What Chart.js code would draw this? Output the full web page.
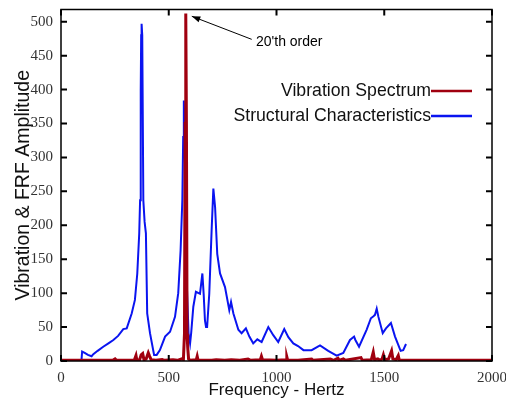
<!DOCTYPE html>
<html>
<head>
<meta charset="utf-8">
<script src="https://cdn.jsdelivr.net/npm/chart.js@4.4.1/dist/chart.umd.min.js"></script>
<style>
  html, body { margin:0; padding:0; background:#fff; }
  canvas { display:block; }
</style>
</head>
<body>
<canvas id="chart" width="506" height="402"></canvas>
<script>
// Structural Characteristics (FRF)
const frfHz  = [95,98,110,125,142,150,170,196,220,243,265,289,305,328,343,354,363,367,370,372,374,377,382,388,394,400,413,432,444,459,483,506,529,544,555,563,567,570,575,583,592,599,604,614,626,645,656,662,668,673,678,688,699,707,715,725,738,761,781,789,800,823,838,858,874,892,911,931,962,985,1008,1036,1055,1078,1100,1125,1163,1202,1240,1279,1310,1341,1360,1366,1383,1418,1438,1450,1457,1465,1473,1493,1508,1531,1550,1576,1588,1601];
const frfAmp = [1,14,12,9,7,10,15,21,26,31,37,47,48,70,90,129,188,237,400,480,497,480,237,205,188,70,41,9,9,16,36,43,65,100,163,237,330,384,300,120,40,26,41,80,102,99,129,99,60,50,50,99,193,254,227,158,129,109,75,87,70,46,41,48,36,26,32,28,50,38,28,47,35,26,22,16,16,23,15,8,12,31,36,31,21,46,63,66,68,77,65,41,48,56,36,15,16,25];

// Vibration Spectrum
const vibHz  = [0,240,251,258,300,340,348,352,365,372,379,385,395,405,410,418,440,470,480,520,540,560,568,573,576,579,582,585,588,592,600,628,632,636,700,720,760,790,830,868,880,925,930,935,1000,1045,1048,1052,1100,1163,1170,1250,1265,1285,1290,1310,1320,1392,1398,1440,1449,1455,1470,1480,1490,1496,1502,1520,1534,1540,1555,1565,1570,1600,2000];
const vibAmp = [1,1,3,1,1,1,8,1,2,9,11,2,3,12,8,2,1,2,1,2,1,3,2,40,350,512,350,40,20,3,1,2,7,1,1,2,1,2,1,3,1,2,7,2,1,2,6,1,1,3,1,3,1,4,1,3,1,5,1,2,13,2,3,1,3,9,2,3,15,3,2,8,1,1,1];

const xTicks = [0,500,1000,1500,2000];
const yTicks = [0,50,100,150,200,250,300,350,400,450,500];

const toXY = (xs, ys) => xs.map((x,i)=>({x:x, y:ys[i]}));

// frame with inward ticks on all four sides
const framePlugin = {
  id:"frame",
  afterDatasetsDraw(chart){
    const {ctx, chartArea:a, scales:{x, y}} = chart;
    ctx.save();
    ctx.strokeStyle = "#000";
    ctx.lineWidth = 1.5;
    ctx.strokeRect(a.left, a.top, a.right-a.left, a.bottom-a.top);
    ctx.lineWidth = 2;
    ctx.beginPath();
    xTicks.forEach(v=>{
      const px = x.getPixelForValue(v);
      ctx.moveTo(px, a.bottom); ctx.lineTo(px, a.bottom-6);
      ctx.moveTo(px, a.top); ctx.lineTo(px, a.top+6);
    });
    yTicks.forEach(v=>{
      const py = y.getPixelForValue(v);
      ctx.moveTo(a.left, py); ctx.lineTo(a.left+6, py);
      ctx.moveTo(a.right, py); ctx.lineTo(a.right-6, py);
    });
    ctx.stroke();
    ctx.restore();
  }
};

// legend: right-aligned text followed by a line sample
const legendPlugin = {
  id:"legendRight",
  afterDraw(chart){
    const ctx = chart.ctx;
    const rows = [
      {ds:chart.data.datasets[1], y:91},
      {ds:chart.data.datasets[0], y:116}
    ];
    ctx.save();
    ctx.font = "17.7px 'Liberation Sans', Arial, sans-serif";
    ctx.textAlign = "right";
    ctx.textBaseline = "middle";
    rows.forEach(r=>{
      ctx.fillStyle = "#111";
      ctx.fillText(r.ds.label, 431, r.y);
      ctx.strokeStyle = r.ds.borderColor;
      ctx.lineWidth = 2.5;
      ctx.beginPath();
      ctx.moveTo(431, r.y); ctx.lineTo(472, r.y);
      ctx.stroke();
    });
    ctx.restore();
  }
};

// "20'th order" note with arrow
const notePlugin = {
  id:"note",
  afterDraw(chart){
    const {ctx, scales:{x, y}} = chart;
    const tx = x.getPixelForValue(607), ty = y.getPixelForValue(508);
    const fx = x.getPixelForValue(885), fy = y.getPixelForValue(474);
    ctx.save();
    ctx.strokeStyle = "#000";
    ctx.fillStyle = "#000";
    ctx.lineWidth = 1;
    ctx.beginPath();
    ctx.moveTo(fx, fy); ctx.lineTo(tx, ty);
    ctx.stroke();
    const ang = Math.atan2(ty-fy, tx-fx);
    ctx.beginPath();
    ctx.moveTo(tx, ty);
    ctx.lineTo(tx-9*Math.cos(ang-0.35), ty-9*Math.sin(ang-0.35));
    ctx.lineTo(tx-9*Math.cos(ang+0.35), ty-9*Math.sin(ang+0.35));
    ctx.closePath();
    ctx.fill();
    ctx.font = "14px 'Liberation Sans', Arial, sans-serif";
    ctx.textAlign = "left";
    ctx.textBaseline = "middle";
    ctx.fillText("20'th order", x.getPixelForValue(905), y.getPixelForValue(470));
    ctx.restore();
  }
};

new Chart(document.getElementById("chart"),{
  type:"scatter",
  data:{
    datasets:[
      {
        label:"Structural Characteristics",
        data:toXY(frfHz, frfAmp),
        showLine:true,
        borderColor:"#0a14f0",
        borderWidth:2,
        pointRadius:0,
        tension:0,
        order:2
      },
      {
        label:"Vibration Spectrum",
        data:toXY(vibHz, vibAmp),
        showLine:true,
        borderColor:"#a0000f",
        borderWidth:3,
        pointRadius:0,
        tension:0,
        order:1
      }
    ]
  },
  options:{
    responsive:false,
    animation:false,
    devicePixelRatio:1,
    layout:{padding:{left:0, right:14, top:9.5, bottom:0}},
    plugins:{legend:{display:false}, tooltip:{enabled:false}},
    scales:{
      x:{
        type:"linear", min:0, max:2000,
        afterBuildTicks:s=>{ s.ticks = xTicks.map(v=>({value:v})); },
        afterFit:s=>{ s.height = 41; s.paddingLeft = 0; s.paddingRight = 0; },
        grid:{display:false, drawTicks:false},
        border:{display:false},
        ticks:{padding:8, autoSkip:false, maxRotation:0, color:"#333", callback:v=>String(v),
               font:{family:"'Liberation Serif', 'Times New Roman', serif", size:15}},
        title:{display:true, text:"Frequency - Hertz", color:"#111", padding:{top:0, bottom:1}, font:{family:"'Liberation Sans', Arial, sans-serif", size:17}}
      },
      y:{
        type:"linear", min:0, max:518,
        afterBuildTicks:s=>{ s.ticks = yTicks.map(v=>({value:v})); },
        afterFit:s=>{ s.width = 61; s.paddingTop = 0; s.paddingBottom = 0; },
        grid:{display:false, drawTicks:false},
        border:{display:false},
        ticks:{padding:8, autoSkip:false, color:"#333", callback:v=>String(v),
               font:{family:"'Liberation Serif', 'Times New Roman', serif", size:15}},
        title:{display:true, text:"Vibration & FRF Amplitude", color:"#111", padding:{top:12, bottom:0}, font:{family:"'Liberation Sans', Arial, sans-serif", size:19.5}}
      }
    }
  },
  plugins:[framePlugin, legendPlugin, notePlugin]
});
</script>
</body>
</html>
